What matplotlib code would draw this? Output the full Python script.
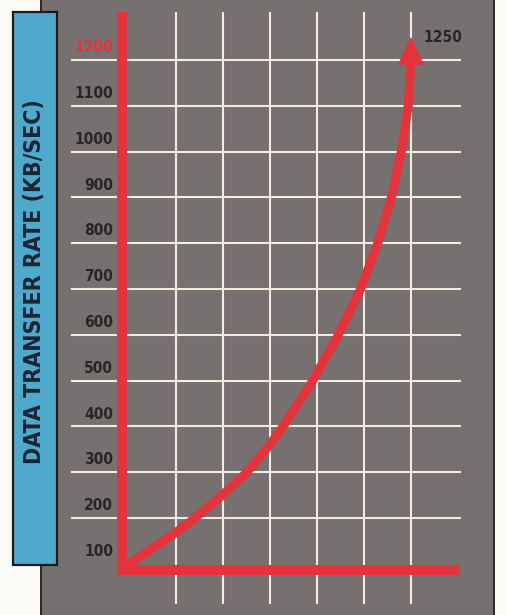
import matplotlib
matplotlib.use("Agg")
import matplotlib.pyplot as plt
from matplotlib.patches import Rectangle

# transfer rate curve, x in grid columns, y in KB/sec
curve_x = [-0.04, 0.13, 0.55, 0.98, 1.38, 1.94, 2.49, 2.96, 3.26, 3.87,
           4.43, 4.92, 5.28, 5.57, 5.79, 5.94, 6.00]
curve_y = [97, 108, 137, 167, 198, 246, 298, 355, 397, 493,
           595, 698, 796, 894, 997, 1100, 1196]
peak_x, peak_y = 6.0, 1250
peak_label = "1250"

rate_ticks = [100, 200, 300, 400, 500, 600, 700, 800, 900, 1000, 1100, 1200]
grid_rows = [200, 300, 400, 500, 600, 700, 800, 900, 1000, 1100, 1200]
grid_cols = [1, 2, 3, 4, 5, 6]
ylabel = "DATA TRANSFER RATE (KB/SEC)"

RED = "#e3333b"
GRID = "#f1ece0"
PANEL = "#777070"
BLUE = "#4fa9cd"
INK = "#2a2525"

plt.rcParams["font.family"] = ["DejaVu Sans"]
plt.rcParams["font.stretch"] = "condensed"

fig = plt.figure(figsize=(5.07, 6.15), dpi=100, facecolor="#fafaf7")
ax = fig.add_axes([0, 0, 1, 1])
ax.set_xlim(-2.745, 8.043)
ax.set_ylim(-11.8, 1331)
ax.axis("off")
renderer = fig.canvas.get_renderer()


def fit_text(t, length_px, vertical=False):
    # shrink a label until its long side is length_px
    bb = t.get_window_extent(renderer)
    size = bb.height if vertical else bb.width
    t.set_fontsize(t.get_fontsize() * length_px / size)
    return t.get_fontsize()


# grey chart panel with dark side rules
ax.add_patch(Rectangle((42 / 507, 0), 452 / 507, 1, transform=ax.transAxes,
                       facecolor=PANEL, edgecolor="none", zorder=0))
for xf in (41 / 507, 494 / 507):
    ax.plot([xf, xf], [0, 1], transform=ax.transAxes, color="#2a2626", lw=1.4, zorder=0.5)

# blue caption box
ax.add_patch(Rectangle((13 / 507, 1 - 565 / 615), 44 / 507, 553 / 615, transform=ax.transAxes,
                       facecolor=BLUE, edgecolor="#1d1a1a", lw=1.6, zorder=2))
cap = ax.text(35 / 507, 1 - 282 / 615, ylabel, transform=ax.transAxes, rotation=90,
              ha="center", va="center", fontsize=19, fontweight="bold",
              color="#1c2433", zorder=3)
fit_text(cap, 365, vertical=True)

# grid
x0, x1 = -1.21, 7.04
for v in grid_rows:
    ax.plot([x0, x1], [v, v], color=GRID, lw=1.5, zorder=1)
for c in grid_cols:
    ax.plot([c, c], [14, 1303], color=GRID, lw=1.5, zorder=1)

# tick labels sit just above their rows; size set from the width of "1100"
labels = []
for v in rate_ticks:
    labels.append(ax.text(-0.34, v + 27, str(v), ha="right", va="center", fontsize=12,
                          fontweight="bold", color=RED if v == 1200 else INK, zorder=3))
tick_size = fit_text(labels[rate_ticks.index(1100)], 39)
for t in labels:
    t.set_fontsize(tick_size)

# red axes
axis_x, axis_y = -0.15, 86
ax.plot([axis_x, axis_x, x1], [1305, axis_y, axis_y], color=RED, lw=7.2,
        solid_joinstyle="miter", solid_capstyle="butt", zorder=4)

# curve and arrow head
ax.plot(curve_x, curve_y, color=RED, lw=6.5, solid_capstyle="butt",
        solid_joinstyle="round", zorder=5)
ax.annotate("", xy=(peak_x, peak_y), xytext=(curve_x[-1], curve_y[-1]),
            arrowprops=dict(arrowstyle="-|>,head_length=0.95,head_width=0.45",
                            mutation_scale=20, color=RED, lw=0.5,
                            shrinkA=0, shrinkB=0), zorder=6)
ax.text(6.26, peak_y, peak_label, ha="left", va="center", fontsize=tick_size,
        fontweight="bold", color=INK, zorder=3)

fig.savefig("out.png", dpi=100, facecolor=fig.get_facecolor())
